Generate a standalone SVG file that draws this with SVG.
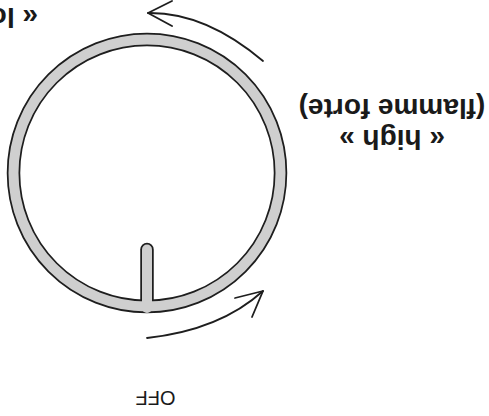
<svg xmlns="http://www.w3.org/2000/svg" width="489" height="416" viewBox="0 0 489 416">
  <style>
    .edge { fill: none; stroke: #1e1e1e; }
    .fill { fill: none; stroke: #cfcfcf; }
    .arrow { fill: none; stroke: #1e1e1e; stroke-width: 1.8; stroke-linecap: round; stroke-linejoin: round; }
    .label { font-family: "Liberation Sans", Arial, sans-serif; fill: #1a1a1a; text-anchor: middle; }
    .bold { font-weight: bold; font-size: 28px; }
  </style>
  <rect width="489" height="416" fill="#ffffff"/>
  <g id="knob">
    <circle class="edge" cx="147" cy="173" r="133.5" stroke-width="13.5"/>
    <line class="edge" x1="147" y1="249.5" x2="147" y2="306" stroke-width="13.5" stroke-linecap="round"/>
    <circle class="fill" cx="147" cy="173" r="133.5" stroke-width="10"/>
    <line class="fill" x1="147" y1="249.5" x2="147" y2="308" stroke-width="10" stroke-linecap="round"/>
  </g>
  <g id="connectors">
    <path class="arrow" d="M263,61 Q205,12 148,13"/>
    <polyline class="arrow" points="172,1 148,13 172,26"/>
    <path class="arrow" d="M147,338 Q220,330 263,291"/>
    <polyline class="arrow" points="235,298 263,291 252,317"/>
  </g>
  <g transform="rotate(180 244.5 208)">
    <g id="off"><text class="label" x="333.5" y="25" font-size="20">OFF</text></g>
    <g id="high">
      <text class="label bold" x="97" y="286">« high »</text>
      <text class="label bold" x="97" y="317">(flamme forte)</text>
    </g>
    <g id="low"><text class="label bold" x="451" y="408" style="text-anchor:start">« low »</text></g>
  </g>
</svg>
